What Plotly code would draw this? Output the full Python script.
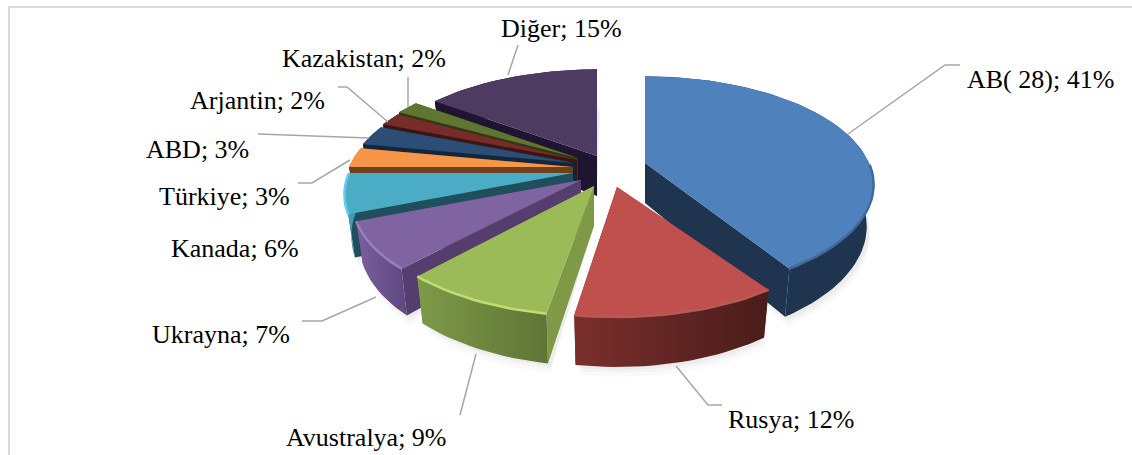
import math
import plotly.graph_objects as go

categories = ["AB( 28)", "Rusya", "Avustralya", "Ukrayna", "Kanada", "Türkiye", "ABD", "Arjantin", "Kazakistan", "Diğer"]
shares = [41, 12, 9, 7, 6, 3, 3, 2, 2, 15]

# styling: top face, side wall, outer wall gradient start/end, rim highlight
top_colors = ["#4F81BD", "#C0504D", "#9BBB59", "#8064A2", "#4BACC6", "#F79646", "#2C4D75", "#772C2A", "#5F7530", "#4D3B62"]
side_colors = ["#1F344F", "#7A2F2D", "#7E9A47", "#553D6E", "#1F4E5C", "#6B4120", "#14263B", "#3A1514", "#2E3A15", "#1F1530"]
wall_start = ["#1F344F", "#7A2F2D", "#7D9A48", "#7A5F9C", "#45A8C4", "#6B4120", "#14263B", "#3A1514", "#2E3A15", "#1F1530"]
wall_end = ["#1F344F", "#4A1C1A", "#5F7536", "#5E4880", "#3A95AE", "#6B4120", "#14263B", "#3A1514", "#2E3A15", "#1F1530"]
rim_colors = ["#3F6A9E", "#B85A57", "#C3DC72", "#9A7FBC", "#62CCE8", "#FFAE60", "#3B6394", "#8F3936", "#728C3C", "#5E4A76"]

# apex of every exploded slice and its small turn, in page pixels and degrees
apex_x = [645, 617, 594, 581, 573, 573, 575, 577, 578, 597]
apex_y = [163, 187, 186, 180, 173, 167, 163, 160, 158, 156]
turn = [0, -2, -1, 0, 0, 0, 0, 0, 0, 0]
RX, RY, PERSP, DEPTH, FLOOR_SHRINK = 224, 104, 0.2, 40, 0.97

# page-pixel label anchors (centre) and leader lines
label_x = [1040, 791, 366, 221, 235, 224, 197, 257, 364, 561]
label_y = [79, 419, 437, 334, 248, 196, 149, 100, 58, 28]
leaders = [
    [(848, 134), (945, 65), (960, 65)],
    [(676, 366), (708, 405), (722, 405)],
    [(476, 354), (460, 415)],
    [(376, 297), (322, 321), (302, 321)],
    None,
    [(350, 160), (312, 183), (298, 183)],
    [(369, 138), (258, 134)],
    [(388, 122), (347, 87), (338, 87)],
    [(408, 107), (408, 77)],
    [(508, 75), (518, 45)],
]
DRAW_ORDER = [9, 8, 7, 6, 5, 4, 3, 2, 0, 1]


def project(i, theta, floor=False):
    rad = math.radians(theta + turn[i])
    u, v = math.sin(rad), -math.cos(rad)
    s = 1 / (1 - PERSP * v)
    if floor:
        return apex_x[i] + RX * u * s * FLOOR_SHRINK, apex_y[i] + RY * v * s + DEPTH * s
    return apex_x[i] + RX * u * s, apex_y[i] + RY * v * s


def apex(i, floor=False):
    return apex_x[i], apex_y[i] + (DEPTH if floor else 0)


def poly(points, color, gradient=None):
    xs = [p[0] for p in points] + [points[0][0]]
    ys = [p[1] for p in points] + [points[0][1]]
    kw = dict(x=xs, y=ys, mode="lines", line=dict(width=0), fill="toself",
              hoverinfo="skip", showlegend=False)
    if gradient:
        kw["fillgradient"] = dict(type="horizontal", colorscale=[[0, gradient[0]], [1, gradient[1]]])
    else:
        kw["fillcolor"] = color
    return go.Scatter(**kw)


fig = go.Figure()
total = sum(shares)
starts, cur = [], 0.0
for val in shares:
    starts.append(cur)
    cur += 360.0 * val / total
ends = starts[1:] + [360.0]


def arc_angles(i):
    n = max(6, int((ends[i] - starts[i]) / 2))
    return [starts[i] + (ends[i] - starts[i]) * t / n for t in range(n + 1)]


def arc(i, floor=False):
    return [project(i, a, floor) for a in arc_angles(i)]


# soft shadows
for grow, alpha in [(10, 0.02), (6, 0.025), (3, 0.03)]:
    for i in DRAW_ORDER:
        pts = [apex(i, True)] + [(x + 3, y + grow) for x, y in arc(i, True)]
        fig.add_trace(poly(pts, f"rgba(0,0,0,{alpha})"))

for i in DRAW_ORDER:
    top_arc = arc(i)
    low_arc = arc(i, True)
    # cut faces
    fig.add_trace(poly([apex(i), top_arc[0], low_arc[0], apex(i, True)], side_colors[i]))
    fig.add_trace(poly([apex(i), top_arc[-1], low_arc[-1], apex(i, True)], side_colors[i]))
    # outer wall
    fig.add_trace(poly(top_arc + low_arc[::-1], None, gradient=(wall_start[i], wall_end[i])))
    # top face
    fig.add_trace(poly([apex(i)] + top_arc, top_colors[i]))
    # bevelled rim, front half only
    front = [project(i, a) for a in arc_angles(i) if -math.cos(math.radians(a + turn[i])) > 0.0]
    if len(front) > 1:
        fig.add_trace(go.Scatter(x=[p[0] for p in front], y=[p[1] for p in front], mode="lines",
                                 line=dict(color=rim_colors[i], width=2.5), hoverinfo="skip", showlegend=False))

shapes = [
    dict(type="line", xref="x", yref="y", x0=8, y0=7, x1=1132, y1=7, line=dict(color="#D9D9D9", width=2)),
    dict(type="line", xref="x", yref="y", x0=9, y0=7, x1=9, y1=455, line=dict(color="#D9D9D9", width=2)),
]
for path in leaders:
    if path:
        d = "M " + " L ".join(f"{x},{y}" for x, y in path)
        shapes.append(dict(type="path", xref="x", yref="y", path=d, line=dict(color="#A6A6A6", width=1.5)))

annotations = [
    dict(x=label_x[i], y=label_y[i], xref="x", yref="y", text=f"{categories[i]}; {shares[i]}%",
         showarrow=False, font=dict(family="Liberation Serif", size=26, color="#000000"))
    for i in range(len(categories))
]

fig.update_layout(
    width=1132, height=455, margin=dict(l=0, r=0, t=0, b=0),
    paper_bgcolor="white", plot_bgcolor="white", showlegend=False,
    xaxis=dict(range=[0, 1132], visible=False, fixedrange=True),
    yaxis=dict(range=[455, 0], visible=False, fixedrange=True),
    shapes=shapes, annotations=annotations,
)
fig.write_html("out.html", config={"displayModeBar": False},
               post_script="document.body.style.margin='0';document.body.style.overflow='hidden';")
